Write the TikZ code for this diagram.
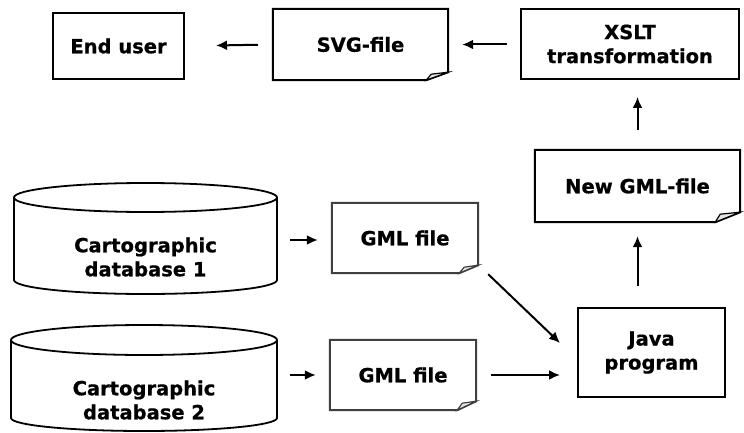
\documentclass[tikz,border=0pt]{standalone}
\usepackage{fontspec}
\setmainfont{DejaVu Sans}[BoldFeatures={FakeBold=0.7}]
\usetikzlibrary{arrows.meta,calc}
\begin{document}
\begin{tikzpicture}[x=1pt,y=-1pt,
  lbl/.style={font=\fontsize{19.5}{24}\selectfont\bfseries, align=center, inner sep=0pt},
  boxnode/.style={lbl, draw, line width=2pt, minimum width=#1},
  spot/.style={lbl, draw=none, rectangle},
  fileline/.style={line width=2pt, line join=miter},
  arr/.style={line width=2pt, -{Latex[length=11pt,width=10pt]}},
  cyl/.style={line width=1.8pt}
]
\useasboundingbox (0,0) rectangle (744,433);

% plain boxes
\node[boxnode=131pt, minimum height=66pt] (enduser) at (118.5,46) {End user};
\node[boxnode=218pt, minimum height=70pt] (xslt) at (630,44) {XSLT\\transformation};
\node[boxnode=147pt, minimum height=89pt] (java) at (651.5,352.5) {Java\\program};

% file-like boxes (text nodes, outlines drawn below)
\node[spot, minimum width=175pt, minimum height=71pt] (svg) at (360.5,44.5) {SVG-file};
\node[spot, minimum width=205pt, minimum height=72pt] (newgml) at (637.5,186) {New GML-file};
\node[spot, minimum width=146pt, minimum height=70pt] (gmla) at (405,238) {GML file};
\node[spot, minimum width=146pt, minimum height=70pt] (gmlb) at (403,375) {GML file};

% file outlines with folded corner
\foreach \n/\fx/\fy/\col in {svg/22/8/black, newgml/25/10/black, gmla/19/8/black!75, gmlb/19/9/black!75}{
  \draw[fileline, draw=\col] (\n.north west) -- (\n.north east) -- ($(\n.south east)+(0,-\fy)$)
     -- ($(\n.south east)+(-\fx,0)$) -- (\n.south west) -- cycle;
  \draw[line width=1.2pt, draw=\col, fill=black!10] ($(\n.south east)+(-\fx,0)$) -- ($(\n.south east)+(-\fx+5,-\fy+2)$) -- ($(\n.south east)+(0,-\fy)$) -- cycle;
}

% cylinders
\node[spot] (cyla) at (145.5,257) {Cartographic\\database 1};
\draw[cyl] (14,197.5) -- (14,280) arc[start angle=180, end angle=360, x radius=131.5, y radius=-14] -- (277,197.5);
\draw[cyl] (145.5,197.5) ellipse[x radius=131.5, y radius=14.5];

\node[spot] (cylb) at (144,400) {Cartographic\\database 2};
\draw[cyl] (11,340) -- (11,418) arc[start angle=180, end angle=360, x radius=133, y radius=-13] -- (277,340);
\draw[cyl] (144,340) ellipse[x radius=133, y radius=15];

\coordinate (cylaE) at (277,240);
\coordinate (cylbE) at (277,375);

% connectors
\draw[arr, shorten <=13pt, shorten >=14pt] (xslt.west |- svg.east) -- (svg.east);
\draw[arr, shorten <=15pt, shorten >=31pt] (svg.west) -- (enduser.east);
\draw[arr, shorten <=20pt, shorten >=17pt] (newgml.north) -- (newgml.north |- xslt.south);
\draw[arr, shorten <=21pt, shorten >=14pt] (newgml.south |- java.north) -- (newgml.south);
\draw[arr, shorten <=13pt, shorten >=14pt] (cylaE) -- (cylaE -| gmla.west);
\draw[arr, shorten <=13pt, shorten >=14pt] (cylbE) -- (cylbE -| gmlb.west);
\draw[arr, shorten <=15pt, shorten >=17pt] (gmlb.east) -- (gmlb.east -| java.west);
\coordinate (ga) at ($(gmla.south east)+(10,1)$);
\coordinate (jb) at ($(java.west)+(-17,-9.5)$);
\draw[arr] (ga) -- (jb);
\end{tikzpicture}
\end{document}
